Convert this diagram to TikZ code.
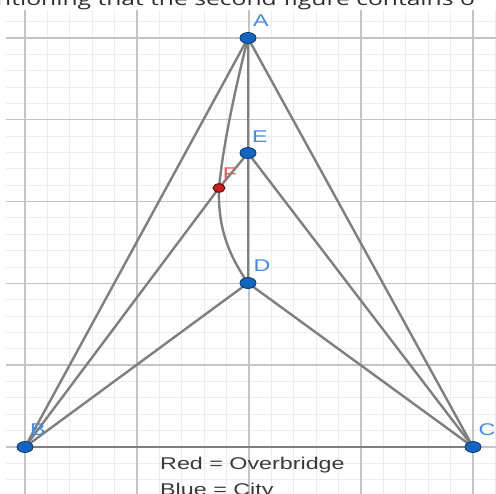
\documentclass[tikz,border=0pt]{standalone}
\usepackage{graphicx}
\usepackage{fontspec}
\setmainfont{Liberation Sans}
\newfontfamily\topfont{Open Sans}
\usetikzlibrary{shapes.geometric}
\definecolor{edgegray}{HTML}{7F7F7F}
\definecolor{minorgray}{HTML}{ECECEC}
\definecolor{majorgray}{HTML}{C4C4C4}
\definecolor{ptblue}{HTML}{1565C0}
\definecolor{ptblueedge}{HTML}{0B3A73}
\definecolor{lblblue}{HTML}{4A8AD8}
\definecolor{ptred}{HTML}{C62020}
\definecolor{lblred}{HTML}{E85A5E}
\definecolor{txtgray}{HTML}{3A3A3A}
\newcommand\widen[1]{\scalebox{1.37}[1]{#1}}
\tikzset{
  minorgrid/.style={draw=minorgray, line width=1pt},
  majorgrid/.style={draw=majorgray, line width=1.4pt},
  edge/.style={draw=edgegray, line width=2.4pt, line cap=round},
  citypt/.style={ellipse, draw=ptblueedge, fill=ptblue, line width=0.8pt, minimum width=16pt, minimum height=11pt, inner sep=0pt},
  bridgept/.style={ellipse, draw=black!70!red, fill=ptred, line width=0.8pt, minimum width=12pt, minimum height=8.5pt, inner sep=0pt},
  citylbl/.style={text=lblblue, inner sep=0pt, font=\fontsize{17}{17}\selectfont},
  bridgelbl/.style={text=lblred, inner sep=0pt, font=\fontsize{17}{17}\selectfont},
  legend/.style={text=txtgray, inner sep=0pt, anchor=base west, font=\fontsize{17}{17}\selectfont},
}
\begin{document}
\begin{tikzpicture}[x=1pt,y=-1pt]
\useasboundingbox (0,0) rectangle (496,494);
\clip (0,0) rectangle (496,494);
\fill[white] (0,0) rectangle (496,494);
% grid
\foreach \k in {0,...,21} \draw[minorgrid] ({25+22.4*\k},10) -- ({25+22.4*\k},494);
\foreach \j in {-1,...,28} \draw[minorgrid] (6,{38+16.36*\j}) -- (496,{38+16.36*\j});
\foreach \k in {0,...,4} \draw[majorgrid] ({25+112*\k},10) -- ({25+112*\k},494);
\foreach \j in {0,...,5} \draw[majorgrid] (6,{38+81.8*\j}) -- (496,{38+81.8*\j});
% top cut-off text
\node[anchor=base west, inner sep=0pt, text=black!82, font=\topfont\fontsize{18}{18}\selectfont] (toptext) at (-4,6) {\widen{ntioning that the second figure contains o}};
% point positions
\coordinate (pA) at (248,38);
\coordinate (pE) at (248,153);
\coordinate (pF) at (219,188);
\coordinate (pD) at (248,283);
\coordinate (pB) at (25,447);
\coordinate (pC) at (473,447);
% edges
\draw[edge] (pB) -- (pC);
\draw[edge] (pA) -- (pB);
\draw[edge] (pA) -- (pC);
\draw[edge] (pA) -- (pE);
\draw[edge] (pE) -- (pD);
\draw[edge] (pE) -- (pC);
\draw[edge] (pD) -- (pB);
\draw[edge] (pD) -- (pC);
\draw[edge] (pB) -- (pF);
\draw[edge] (pF) -- (pE);
\draw[edge] (pA) .. controls (236,85) and (223,145) .. (pF);
\draw[edge] (pF) .. controls (218,222) and (225,250) .. (pD);
% points
\node[citypt] (A) at (pA) {};
\node[citypt] (E) at (pE) {};
\node[citypt] (D) at (pD) {};
\node[citypt] (B) at (pB) {};
\node[citypt] (C) at (pC) {};
\node[bridgept] (F) at (pF) {};
% labels
\node[citylbl] (lA) at (261,21) {\widen{A}};
\node[citylbl] (lE) at (260,137) {\widen{E}};
\node[bridgelbl] (lF) at (230,174) {\widen{F}};
\node[citylbl] (lD) at (262,266) {\widen{D}};
\node[citylbl] (lB) at (38,430) {\widen{B}};
\node[citylbl] (lC) at (487,430) {\widen{C}};
% legend
\node[legend] (leg1) at (160,470) {\widen{Red = Overbridge}};
\node[legend] (leg2) at (160,496) {\widen{Blue = City}};
\end{tikzpicture}
\end{document}
